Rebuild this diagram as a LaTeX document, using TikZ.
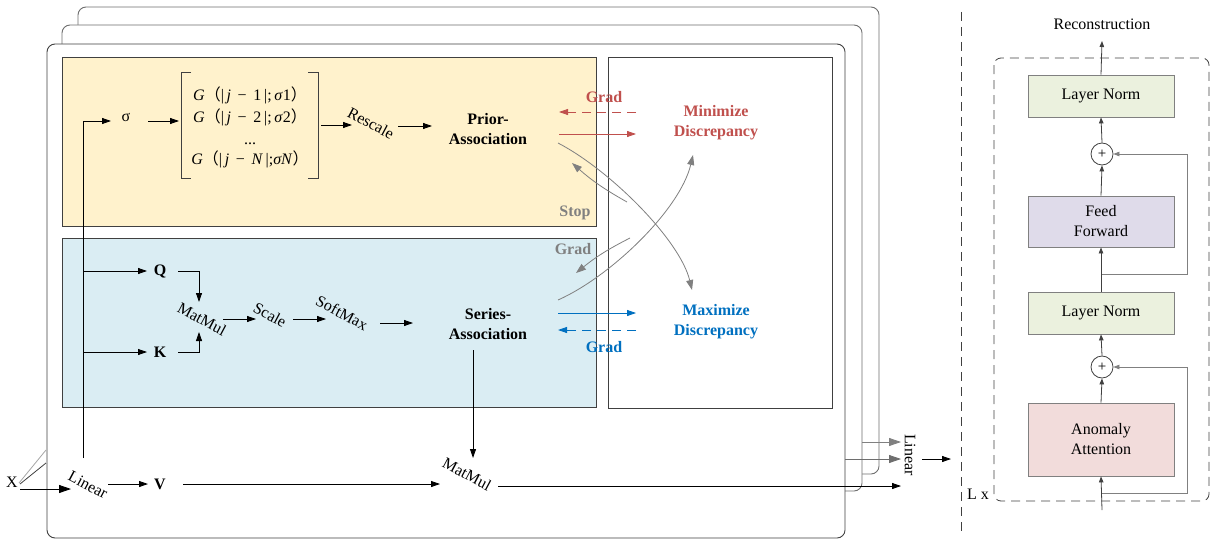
\documentclass[tikz,border=0pt]{standalone}
\usepackage{fontspec}
\setmainfont{Liberation Serif}
\newfontfamily\cjk{Noto Sans CJK SC}
\usetikzlibrary{arrows.meta}
\definecolor{yelfill}{HTML}{FFF2CC}
\definecolor{bluefill}{HTML}{DAEDF3}
\definecolor{redtxt}{HTML}{C0504D}
\definecolor{bluetxt}{HTML}{0070C0}
\definecolor{grayln}{HTML}{808080}
\definecolor{lightln}{HTML}{A6A6A6}
\definecolor{normfill}{HTML}{EBF1DE}
\definecolor{fffill}{HTML}{DFDBEA}
\definecolor{aafill}{HTML}{F2DCDB}
\definecolor{darkln}{HTML}{404040}
\definecolor{midln}{HTML}{6E6E6E}
\newcommand{\fp}[1]{{\cjk #1}}
\begin{document}
\begin{tikzpicture}[x=1pt,y=-1pt,
  every node/.style={font=\fontsize{16}{20}\selectfont, inner sep=1pt, align=center},
  bold/.style={font=\fontsize{16}{20}\selectfont\bfseries},
  tilt/.style={rotate=-28},
  arr/.style={line width=0.8pt, -{Triangle[length=9pt,width=6pt]}},
  garr/.style={draw=grayln, line width=0.8pt, -{Triangle[length=10pt,width=7pt]}, color=grayln},
  sarr/.style={draw=darkln, line width=0.8pt, -{Triangle[length=6pt,width=4.5pt]}},
  stackframe/.style={rounded corners=8pt, fill=white, line width=0.9pt},
  blk/.style={draw=grayln, line width=0.8pt, minimum width=146pt, inner sep=0pt},
  gdash/.style={dash pattern=on 9pt off 6pt, line width=0.8pt},
]
\useasboundingbox (0,0) rectangle (1222,543);

% stacked encoder layers
\draw[stackframe, draw=midln] (78,7) rectangle (879,474);
\draw[stackframe, draw=midln] (62,25) rectangle (862,491);
\draw[stackframe, draw=darkln] (47,44) rectangle (845,538);

% prior / series / discrepancy panels
\draw[fill=yelfill, draw=darkln, line width=0.9pt] (62,57) rectangle (596,226);
\draw[fill=bluefill, draw=darkln, line width=0.9pt] (62,238) rectangle (596,407);
\draw[draw=darkln, line width=0.9pt] (608,57) rectangle (832,408);

% ---------- prior branch ----------
\node (sigma) at (126,117) {σ};
\node[font=\fontsize{16}{22}\selectfont] (gmat) at (250,127)
  {\textit{G}\fp{（}|\,\textit{j} \,−\, 1\,|;\,\textit{σ}1\fp{）}\\
   \textit{G}\fp{（}|\,\textit{j} \,−\, 2\,|;\,\textit{σ}2\fp{）}\\
   ...\\[-2pt]
   \textit{G}\fp{（}|\,\textit{j} \,−\, \textit{N}\,|;\textit{σN}\fp{）}};
\draw[darkln, line width=0.9pt] (191,72) -- (181,72) -- (181,178) -- (191,178);
\draw[darkln, line width=0.9pt] (308,72) -- (318,72) -- (318,178) -- (308,178);
\node[tilt] (rescale) at (371,123) {Rescale};
\node[bold] (prior) at (488,129) {Prior-\\Association};

\coordinate (trunkBot) at (83,458);
\draw[arr] (trunkBot) |- (111,121);
\draw[arr] (148,121) -- (179,121);
\draw[arr] (321,125) -- (352,125);
\draw[arr] (398,126) -- (432,126);

% ---------- series branch ----------
\node[bold] (Q) at (160,271) {Q};
\node[bold] (K) at (160,352) {K};
\node[tilt] (mm1) at (202,319) {MatMul};
\node[tilt] (scale) at (270,315) {Scale};
\node[tilt] (soft) at (342,313) {SoftMax};
\node[bold] (series) at (488,324) {Series-\\Association};

\draw[arr] (83,271) -- (147,271);
\draw[arr] (83,352) -- (147,352);
\draw[arr] (178,271) -| (199,302);
\draw[arr] (178,352) -| (199,332);
\draw[arr] (223,319) -- (256,319);
\draw[arr] (293,319) -- (326,319);
\draw[arr] (380,323) -- (413,323);

% ---------- discrepancy ----------
\node[bold, text=redtxt] (mini) at (716,123) {Minimize\\Discrepancy};
\node[bold, text=bluetxt] (maxi) at (716,322) {Maximize\\Discrepancy};
\node[bold, text=redtxt] (gradR) at (604,97) {Grad};
\node[bold, text=bluetxt] (gradB) at (604,347) {Grad};
\node[bold, text=grayln] (stop) at (575,213) {Stop};
\node[bold, text=grayln] (gradG) at (573,249) {Grad};

\draw[arr, redtxt, gdash] (636,112) -- (559,112);
\draw[arr, redtxt] (559,134) -- (636,134);
\draw[arr, bluetxt] (558,313) -- (636,313);
\draw[arr, bluetxt, gdash] (636,330) -- (558,330);

\draw[garr] (558,143) .. controls (610,170) and (680,240) .. (692,290);
\draw[garr] (558,300) .. controls (610,277) and (680,210) .. (693,155);
\draw[garr] (627,202) to[bend left=6] (572,163);
\draw[garr] (630,238) to[bend right=6] (576,273);

% ---------- value path ----------
\node (X) at (12,482) {X};
\node[tilt] (lin1) at (88,485) {Linear};
\node[bold] (V) at (160,484) {V};
\node[tilt] (mm2) at (467,474) {MatMul};

\draw[lightln, line width=0.8pt] (19,483) -- (46,450);
\draw[darkln, line width=0.8pt] (20,484) -- (46,463);
\draw[line width=0.8pt, -{Triangle[length=12pt,width=8pt]}] (20,489) -- (71,489);
\draw[arr] (108,484) -- (148,484);
\draw[arr] (183,484) -- (440,484);
\draw[arr] (473,350) -- (473,458);
\draw[arr] (498,486) -- (901,486);

% outputs of the stacked layers
\draw[grayln, line width=0.8pt, -{Triangle[length=12pt,width=8pt]}] (862,442) -- (901,442);
\draw[midln, line width=0.8pt, -{Triangle[length=12pt,width=8pt]}] (845,459) -- (901,459);
\node[rotate=-90] (lin2) at (910,455) {Linear};
\draw[arr] (922,459) -- (951,459);

% separator
\draw[darkln, line width=0.8pt, dash pattern=on 9pt off 6pt] (961,12) -- (961,533);

% ---------- encoder block ----------
\draw[darkln, line width=0.8pt, dash pattern=on 9pt off 6pt, rounded corners=7pt]
  (994,58) rectangle (1209,501);
\node (Lx) at (978,494) {L x};

\node[blk, fill=normfill, minimum height=42pt] (ln1) at (1101,96) {Layer Norm};
\node[circle, draw=darkln, line width=0.8pt, minimum size=22pt, inner sep=0pt,
      font=\fontsize{15}{15}\selectfont] (pl1) at (1102,154) {+};
\node[blk, fill=fffill, minimum height=51pt] (ff) at (1101,221.5) {Feed\\Forward};
\node[blk, fill=normfill, minimum height=42pt] (ln2) at (1101,313) {Layer Norm};
\node[circle, draw=darkln, line width=0.8pt, minimum size=22pt, inner sep=0pt,
      font=\fontsize{15}{15}\selectfont] (pl2) at (1102,367) {+};
\node[blk, fill=aafill, minimum height=73pt] (aa) at (1101,439.5) {Anomaly\\Attention};
\node (recon) at (1102,24) {Reconstruction};

\coordinate (inp) at (1102,510);
\coordinate (res1) at (1102,493);
\coordinate (res2) at (1102,274);
\coordinate (out) at (1102,41);

\draw[sarr] (inp) -- (aa.south);
\draw[sarr] (aa.north) -- (pl2.south);
\draw[sarr] (pl2.north) -- (ln2.south);
\draw[sarr] (ln2.north) -- (ff.south);
\draw[sarr] (ff.north) -- (pl1.south);
\draw[sarr] (pl1.north) -- (ln1.south);
\draw[sarr] (ln1.north) -- (out);
\draw[sarr, draw=grayln] (res1) -| (1187,367) -- (pl2.east);
\draw[sarr, draw=grayln] (res2) -| (1187,154) -- (pl1.east);
\end{tikzpicture}
\end{document}
